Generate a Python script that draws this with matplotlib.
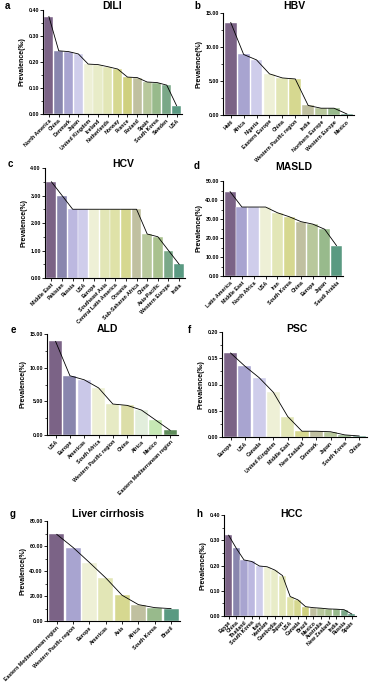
import numpy as np
import matplotlib
matplotlib.use("Agg")
import matplotlib.pyplot as plt
from matplotlib.ticker import AutoMinorLocator, MultipleLocator, FormatStrFormatter

plt.rcParams['font.family'] = ['Liberation Sans', 'DejaVu Sans']
plt.rcParams['font.weight'] = 'bold'

# ---- data ----
dili_labels = ['North America', 'China', 'Denmark', 'Japan', 'United Kingdom', 'Iceland',
               'Netherlands', 'Norway', 'France', 'Finland', 'Spain', 'South Korea', 'Sweden', 'USA']
dili_values = [0.375, 0.243, 0.240, 0.231, 0.192, 0.190, 0.182, 0.173, 0.142, 0.140, 0.123, 0.121, 0.111, 0.032]

hbv_labels = ['Haiti', 'Africa', 'Nigeria', 'Eastern Europe', 'China', 'Western Pacific region',
              'India', 'Northern Europe', 'Western Europe', 'Mexico']
hbv_values = [13.6, 8.9, 8.1, 6.05, 5.45, 5.3, 1.4, 1.0, 1.0, 0.15]

hcv_labels = ['Middle East', 'Pakistan', 'Russia', 'USA', 'Europe', 'Southeast Asia',
              'Central Latin America', 'Oceania', 'Sub-Saharan Africa', 'China', 'Asia-Pacific',
              'Western Europe', 'India']
hcv_values = [3.5, 3.0, 2.5, 2.5, 2.5, 2.5, 2.5, 2.5, 2.5, 1.6, 1.5, 1.0, 0.5]

masld_labels = ['Latin America', 'Middle East', 'North Africa', 'USA', 'Iran', 'South Korea',
                'China', 'Europe', 'Japan', 'Saudi Arabia']
masld_values = [44.4, 36.3, 36.3, 36.3, 33.3, 31.2, 28.6, 27.3, 24.6, 16.0]

ald_labels = ['USA', 'Europe', 'Americas', 'South Africa', 'Western Pacific region', 'China',
              'Africa', 'Mexico', 'Eastern Mediterranean region']
ald_values = [13.9, 8.8, 8.2, 7.0, 4.6, 4.4, 3.7, 2.2, 0.7]

psc_labels = ['Europe', 'USA', 'Canada', 'United Kingdom', 'Middle East', 'New Zealand',
              'Denmark', 'Japan', 'South Korea', 'China']
psc_values = [0.160, 0.135, 0.113, 0.085, 0.039, 0.011, 0.011, 0.010, 0.004, 0.002]

lc_labels = ['Eastern Mediterranean region', 'Western Pacific region', 'Europe', 'Americas',
             'Asia', 'Africa', 'South Korea', 'Brazil']
lc_values = [69.3, 58.8, 46.8, 34.5, 20.6, 13.1, 10.7, 9.9]

hcc_labels = ['Egypt', 'China', 'Thailand', 'South Korea', 'Italy', 'Vietnam', 'Cambodia', 'Japan',
              'USA', 'Canada', 'Brazil', 'Mexico', 'Australia', 'New Zealand', 'India', 'Russia', 'Spain']
hcc_values = [0.320, 0.268, 0.222, 0.216, 0.198, 0.195, 0.182, 0.160, 0.077, 0.064, 0.037,
              0.033, 0.031, 0.028, 0.027, 0.025, 0.008]

# shared purple -> yellow -> green palette, picked by position
palette = ['#7b6386', '#8986ae', '#a8a4d0', '#bcb8e0', '#cfcdeb', '#eef0d6', '#e8ecc8',
           '#e2e6b6', '#dfe2a8', '#d6d890', '#cfd07e', '#c0c0a0', '#b8c89c', '#a9c18e',
           '#98ba8c', '#7aa888', '#5a9a82']
ald_colors = ['#7b6386', '#8986ae', '#cac8e8', '#eef0d4', '#e6eac4', '#dcdea8',
              '#e2eedc', '#c6e8b4', '#5e8c5a']

W, H = 369, 685
fig = plt.figure(figsize=(W / 100, H / 100), dpi=100)


def px_axes(left, right, top, bottom):
    return fig.add_axes([left / W, 1 - bottom / H, (right - left) / W, (bottom - top) / H])


def pick_colors(n):
    idx = np.round(np.linspace(0, len(palette) - 1, n)).astype(int)
    return [palette[i] for i in idx]


def panel(box, labels, values, ymax, step, ylab, title, tpos, letter, lpos, colors=None):
    ax = px_axes(*box)
    n = len(labels)
    x = np.arange(n)
    cols = colors if colors is not None else pick_colors(n)
    ax.bar(x, values, width=0.92, color=cols, edgecolor='white', linewidth=0.3, zorder=2)
    ax.plot(x, values, color='black', lw=0.6, zorder=3)
    ax.set_xlim(-0.6, n - 0.45)
    ax.set_ylim(0, ymax)
    ax.yaxis.set_major_locator(MultipleLocator(step))
    ax.yaxis.set_minor_locator(AutoMinorLocator(2))
    ax.yaxis.set_major_formatter(FormatStrFormatter('%.2f'))
    ax.set_xticks(x)
    ax.set_xticklabels(labels, rotation=45, ha='right', rotation_mode='anchor')
    for s in ['top', 'right']:
        ax.spines[s].set_visible(False)
    for s in ['left', 'bottom']:
        ax.spines[s].set_linewidth(0.8)
    ax.tick_params(axis='both', which='major', length=2, width=0.6, labelsize=3.8, pad=1)
    ax.tick_params(axis='y', which='minor', length=1.2, width=0.5)
    ax.set_ylabel(ylab, fontsize=5, fontweight='bold', labelpad=2)
    fig.text(tpos[0] / W, 1 - tpos[1] / H, title, fontsize=7.5, fontweight='bold',
             ha='center', va='center')
    fig.text(lpos[0] / W, 1 - lpos[1] / H, letter, fontsize=7, fontweight='bold',
             ha='center', va='center')
    return ax


pm = 'Prevalence(\u2030)'
pc = 'Prevalence(%)'

panel((43, 182, 10, 114), dili_labels, dili_values, 0.40, 0.10, pm, 'DILI', (112, 6), 'a', (7, 6))
panel((223, 354, 13, 115), hbv_labels, hbv_values, 15, 5, pc, 'HBV', (294, 6), 'b', (197, 6))
panel((45, 185, 168, 278), hcv_labels, hcv_values, 4, 1, pc, 'HCV', (123, 164), 'c', (10, 164))
panel((223, 343, 181, 276), masld_labels, masld_values, 50, 10, pc, 'MASLD', (294, 167), 'd', (197, 166))
panel((47, 178, 334, 435), ald_labels, ald_values, 15, 5, pc, 'ALD', (107, 329), 'e', (13, 330),
      colors=ald_colors)
panel((222, 367, 332, 437), psc_labels, psc_values, 0.20, 0.05, pm, 'PSC', (297, 329), 'f', (189, 330))
panel((47, 180, 521, 621), lc_labels, lc_values, 80, 20, pc, 'Liver cirrhosis', (108, 514), 'g', (13, 514))
panel((224, 356, 515, 616), hcc_labels, hcc_values, 0.40, 0.10, pm, 'HCC', (291, 514), 'h', (199, 514))

fig.savefig('out.png', dpi=100, facecolor='white')
